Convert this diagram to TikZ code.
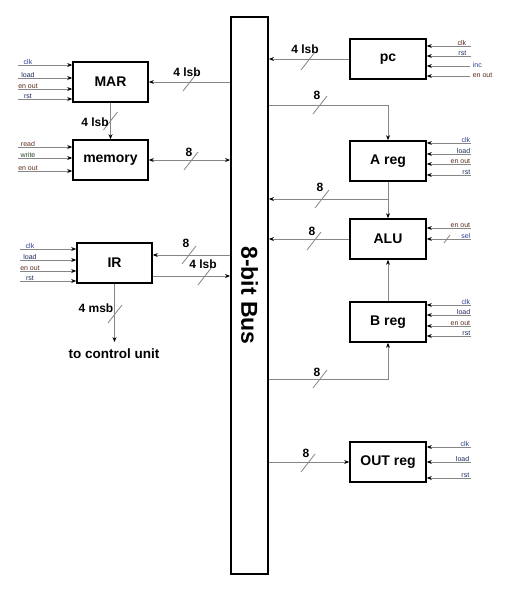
\documentclass[tikz,border=0pt]{standalone}
\usepackage{fontspec}
\setmainfont{Liberation Sans}
\usetikzlibrary{arrows.meta,calc}
\definecolor{lg}{HTML}{868686}
\definecolor{cb}{HTML}{2B3F8C}
\definecolor{cn}{HTML}{1C2A5A}
\definecolor{cm}{HTML}{5A2A1A}
\definecolor{cg}{HTML}{2A4A2A}
\newcommand\busslash[1]{\draw[slash] ($(#1)+(-7,9)$) -- ($(#1)+(7,-9)$);}
\begin{document}
\begin{tikzpicture}[x=1pt,y=-1pt,
  box/.style={draw=black,line width=1.6pt,fill=white,minimum width=75pt,minimum height=40pt,inner sep=0pt,font=\fontsize{14}{16}\selectfont\bfseries},
  conn/.style={draw=lg,line width=1pt},
  arr/.style={conn,-{Stealth[length=5pt,width=4pt,color=black]}},
  darr/.style={conn,{Stealth[length=5pt,width=4pt,color=black]}-{Stealth[length=5pt,width=4pt,color=black]}},
  blab/.style={font=\fontsize{12}{14}\selectfont\bfseries,inner sep=0pt},
  slash/.style={draw=lg,line width=0.8pt},
  sig/.style={font=\fontsize{7}{8}\selectfont,inner sep=0.6pt,anchor=south}
]
\useasboundingbox (0,0) rectangle (508,603);

% bus
\node[draw=black,line width=1.8pt,minimum width=37pt,minimum height=557pt,inner sep=0pt,fill=white,
      font=\fontsize{23}{26}\selectfont\bfseries] (bus) at (249.5,295.5) {\rotatebox{-90}{8-bit Bus}};

% boxes
\node[box] (mar) at (110.5,82) {MAR};
\node[box] (mem) at (110.5,160) {memory};
\node[box] (ir) at (114.5,263) {IR};
\node[box,minimum width=76pt] (pc) at (388,59) {pc};
\node[box,minimum width=76pt] (areg) at (388,161) {A reg};
\node[box,minimum width=76pt] (alu) at (388,239) {ALU};
\node[box,minimum width=76pt] (breg) at (388,322) {B reg};
\node[box,minimum width=76pt] (outreg) at (388,462) {OUT reg};

% left side connectors
\draw[arr] (bus.west |- mar.east) -- (mar.east);
\coordinate (s1) at (190,82); \busslash{s1}
\node[blab] (l1) at (187,72) {4 lsb};

\draw[arr] (mar.south) -- (mem.north);
\coordinate (s2) at (110.5,121); \busslash{s2}
\node[blab] (l2) at (95,122) {4 lsb};

\draw[darr] (mem.east) -- (bus.west |- mem.east);
\coordinate (s3) at (191,161); \busslash{s3}
\node[blab] (l3) at (189,152) {8};

\coordinate (irin) at (ir.east |- 0,255);
\draw[arr] (bus.west |- irin) -- (irin);
\coordinate (s4) at (189,255); \busslash{s4}
\node[blab] (l4) at (186,243) {8};

\coordinate (irout) at (ir.east |- 0,276);
\draw[arr] (irout) -- (bus.west |- irout);
\coordinate (s5) at (205,276); \busslash{s5}
\node[blab] (l5) at (203,264) {4 lsb};

\coordinate (cu) at (114.5,342);
\draw[arr] (ir.south) -- (cu);
\coordinate (s6) at (115,314); \busslash{s6}
\node[blab] (l6) at (96,308) {4 msb};
\node[font=\fontsize{13.5}{15}\selectfont\bfseries,inner sep=0pt] (cut) at (114,354) {to control unit};

% right side connectors
\draw[arr] (pc.west) -- (bus.east |- pc.west);
\coordinate (s7) at (308,61); \busslash{s7}
\node[blab] (l7) at (305,49) {4 lsb};

\coordinate (ja) at (388,105);
\draw[arr] (bus.east |- ja) -- (ja) -- (areg.north);
\coordinate (s8) at (320,105); \busslash{s8}
\node[blab] (l8) at (317,95) {8};

\draw[arr] (areg.south) -- (alu.north);
\coordinate (jb) at (388,199);
\draw[arr] (jb) -- (bus.east |- jb);
\coordinate (s9) at (322,199); \busslash{s9}
\node[blab] (l9) at (320,187) {8};

\draw[arr] (alu.west) -- (bus.east |- alu.west);
\coordinate (s10) at (314,241); \busslash{s10}
\node[blab] (l10) at (312,231) {8};

\draw[arr] (breg.north) -- (alu.south);

\coordinate (jc) at (388,379);
\draw[arr] (bus.east |- jc) -- (jc) -- (breg.south);
\coordinate (s11) at (320,379); \busslash{s11}
\node[blab] (l11) at (317,372) {8};

\draw[arr] (bus.east |- outreg.west) -- (outreg.west);
\coordinate (s12) at (308,463); \busslash{s12}
\node[blab] (l12) at (306,453) {8};

% left inputs
\foreach \y/\t/\c in {65/clk/cb,78/load/cn,89/en out/cm,99/rst/cn} {
  \coordinate (ma\y) at (18,\y);
  \draw[arr] (ma\y) -- (mar.west |- ma\y);
  \node[sig,text=\c] at (28,\y) {\t};
}
\foreach \y/\t/\c in {147/read/cm,158/write/cg,171/en out/cm} {
  \coordinate (me\y) at (18,\y);
  \draw[arr] (me\y) -- (mem.west |- me\y);
  \node[sig,text=\c] at (28,\y) {\t};
}
\foreach \y/\t/\c in {249/clk/cb,260/load/cn,271/en out/cm,281/rst/cn} {
  \coordinate (ii\y) at (20,\y);
  \draw[arr] (ii\y) -- (ir.west |- ii\y);
  \node[sig,text=\c] at (30,\y) {\t};
}

% right inputs
\foreach \y/\t/\c in {46/clk/cm,56/rst/cn} {
  \coordinate (pi\y) at (471,\y);
  \draw[arr] (pi\y) -- (pc.east |- pi\y);
  \node[sig,anchor=south east,text=\c] at (467,\y) {\t};
}
\foreach \y/\t/\c in {66/inc/cb,76/en out/cm} {
  \coordinate (pj\y) at (470,\y);
  \draw[arr] (pj\y) -- (pc.east |- pj\y);
  \node[sig,anchor=west,text=\c] at (472,\y-1) {\t};
}
\foreach \y/\t/\c in {143/clk/cb,154/load/cn,164/en out/cm,175/rst/cn} {
  \coordinate (ai\y) at (471,\y);
  \draw[arr] (ai\y) -- (areg.east |- ai\y);
  \node[sig,anchor=south east,text=\c] at (471,\y) {\t};
}
\foreach \y/\t/\c in {228/en out/cm,239/sel/cb} {
  \coordinate (ui\y) at (471,\y);
  \draw[arr] (ui\y) -- (alu.east |- ui\y);
  \node[sig,anchor=south east,text=\c] at (471,\y) {\t};
}
\draw[slash] (444,243) -- (450,235);
\foreach \y/\t/\c in {305/clk/cb,315/load/cn,326/en out/cm,336/rst/cn} {
  \coordinate (bi\y) at (471,\y);
  \draw[arr] (bi\y) -- (breg.east |- bi\y);
  \node[sig,anchor=south east,text=\c] at (471,\y) {\t};
}
\foreach \y/\t/\c in {447/clk/cb,462/load/cn,478/rst/cn} {
  \coordinate (oi\y) at (471,\y);
  \draw[arr] (oi\y) -- (outreg.east |- oi\y);
  \node[sig,anchor=south east,text=\c] at (470,\y) {\t};
}
\end{tikzpicture}
\end{document}
